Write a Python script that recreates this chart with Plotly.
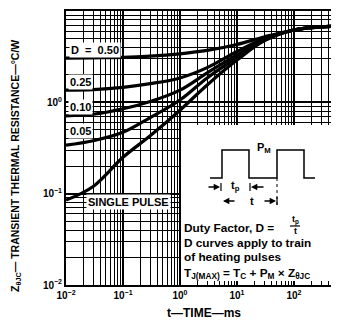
import plotly.graph_objects as go

# ---- data ----
time_ms = [0.01, 0.03, 0.1, 0.3, 1, 3, 10, 30, 100, 300, 620]
d050 = [3.05, 3.07, 3.1, 3.2, 3.4, 3.7, 4.3, 5.2, 6.2, 6.7, 6.8]
d025 = [1.36, 1.38, 1.46, 1.6, 1.85, 2.4, 3.6, 5.0, 6.2, 6.7, 6.8]
d010 = [0.71, 0.74, 0.85, 1.02, 1.36, 2.1, 3.3, 4.9, 6.2, 6.7, 6.8]
d005 = [0.34, 0.38, 0.47, 0.68, 1.06, 1.85, 3.1, 4.8, 6.2, 6.7, 6.8]
single = [0.085, 0.12, 0.25, 0.43, 0.82, 1.55, 2.9, 4.7, 6.2, 6.7, 6.8]

series = [d050, d025, d010, d005, single]

x_decades = [0.01, 0.1, 1, 10, 100]
x_ticktext = ["10<sup>−2</sup>", "10<sup>−1</sup>", "10<sup>0</sup>", "10<sup>1</sup>", "10<sup>2</sup>"]
y_decades = [0.01, 0.1, 1, 10]
y_ticktext = ["10<sup>−2</sup>", "10<sup>−1</sup>", "10<sup>0</sup>", "10<sup>1</sup>"]

x_minor = [m * d for d in [0.01, 0.1, 1, 10, 100] for m in range(2, 10)]
y_minor = [m * d for d in [0.01, 0.1, 1] for m in range(2, 10)]

# page has an 8px body margin; the figure is sized so the plot lands where the reference has it
OFF = 8
W, H = 339 - OFF, 327 - OFF
L, R, T, B = 66 - OFF, 0, 11 - OFF, 42
PW, PH = W - L - R, H - T - B

def px(x):
    return (x - 66) / PW

def py(y):
    return (285 - y) / PH

FONT = "Liberation Sans, Arial, Helvetica, sans-serif"

fig = go.Figure()
for s in series:
    fig.add_trace(go.Scatter(x=time_ms, y=s, mode="lines", line=dict(color="black", width=3.2, shape="spline"),
                             showlegend=False, hoverinfo="skip"))

fig.update_xaxes(type="log", range=[-2, 2.79], tickvals=x_decades, ticktext=x_ticktext,
                 showgrid=True, gridcolor="black", gridwidth=1.6,
                 showline=True, linecolor="black", linewidth=2, mirror=True, ticks="", zeroline=False,
                 tickfont=dict(family=FONT, size=10, color="black", weight="bold"),
                 minor=dict(tickvals=x_minor, showgrid=True, gridcolor="black", gridwidth=1.4))
fig.update_yaxes(type="log", range=[-2, 1], tickvals=y_decades, ticktext=y_ticktext,
                 showgrid=True, gridcolor="black", gridwidth=1.6,
                 showline=True, linecolor="black", linewidth=2, mirror=False, ticks="", zeroline=False,
                 tickfont=dict(family=FONT, size=10, color="black", weight="bold"),
                 minor=dict(tickvals=y_minor, showgrid=True, gridcolor="black", gridwidth=1.4))

shapes = []
# white box for the notes
shapes.append(dict(type="rect", xref="paper", yref="paper", x0=px(181), x1=1.0, y0=py(281), y1=py(125),
                   fillcolor="white", line=dict(width=0), layer="above"))
# pulse train
pts = [(210, 178), (222, 178), (222, 150), (249, 150), (249, 178), (277, 178), (277, 150),
       (304, 150), (304, 178), (315, 178)]
path = "M " + " L ".join(f"{px(a):.4f},{py(b):.4f}" for a, b in pts)
shapes.append(dict(type="path", xref="paper", yref="paper", path=path, line=dict(color="black", width=1.5),
                   layer="above"))
# dashed marker line
shapes.append(dict(type="line", xref="paper", yref="paper", x0=px(277), x1=px(277), y0=py(178), y1=py(206),
                   line=dict(color="black", width=1, dash="dot"), layer="above"))
# bars for arrows
for bx, by in [(221, 187), (250, 187), (277, 201)]:
    shapes.append(dict(type="line", xref="paper", yref="paper", x0=px(bx), x1=px(bx), y0=py(by - 4), y1=py(by + 4),
                       line=dict(color="black", width=1.2), layer="above"))
# fraction bar
shapes.append(dict(type="line", xref="paper", yref="paper", x0=px(290), x1=px(300), y0=py(226), y1=py(226),
                   line=dict(color="black", width=1.2), layer="above"))
fig.update_layout(shapes=shapes)

ann = []
def text(x, y, t, size=11.5, anchor="center", bg=None):
    d = dict(xref="paper", yref="paper", x=px(x), y=py(y), text=t, showarrow=False, xanchor=anchor,
             yanchor="middle", font=dict(family=FONT, size=size, color="black", weight="bold"))
    if bg:
        d.update(bgcolor=bg, borderpad=1)
    else:
        d.update(borderpad=0)
    ann.append(d)

text(95, 50, "D\u00a0\u00a0=\u00a0\u00a00.50", 11, bg="white")
text(80, 82, "0.25", 11, bg="white")
text(80, 107, "0.10", 11, bg="white")
text(80, 131, "0.05", 11, bg="white")
text(128, 202, "SINGLE PULSE", 11, bg="white")

text(264, 148, "P<sub>M</sub>", 11)
text(235, 186, "t<sub>p</sub>", 11)
text(252, 201, "t", 11)
text(295, 220, "t<sub>p</sub>", 9)
text(295, 231, "t", 9)
text(183, 228, "Duty Factor, D =", 11.8, anchor="left")
text(183, 243, "D curves apply to train", 11.8, anchor="left")
text(183, 257, "of heating pulses", 11.8, anchor="left")
text(183, 273, "T<sub>J(MAX)</sub> = T<sub>C</sub> + P<sub>M</sub> × Z<sub>θJC</sub>", 11.8, anchor="left")

# arrows
for tipx, tipy, ax in [(220, 187, -13), (251, 187, 14), (223, 201, 13), (276, 201, -13)]:
    ann.append(dict(xref="paper", yref="paper", x=px(tipx), y=py(tipy), ax=ax, ay=0, text="",
                    showarrow=True, arrowhead=2, arrowsize=0.9, arrowwidth=1.4, arrowcolor="black"))

# axis titles
ann.append(dict(xref="paper", yref="paper", x=px(16), y=py(166), text="Z<sub>θJC</sub>— TRANSIENT THERMAL RESISTANCE—°C/W",
                showarrow=False, textangle=-90, xanchor="center", yanchor="middle", borderpad=0,
                font=dict(family=FONT, size=10.5, color="black", weight="bold")))
ann.append(dict(xref="paper", yref="paper", x=px(204), y=py(313), text="t—TIME—ms",
                showarrow=False, xanchor="center", yanchor="middle",
                font=dict(family=FONT, size=12, color="black", weight="bold")))

fig.update_layout(annotations=ann, width=W, height=H, margin=dict(l=L, r=R, t=T, b=B),
                  paper_bgcolor="white", plot_bgcolor="white", showlegend=False)

fig.write_html("out.html")
